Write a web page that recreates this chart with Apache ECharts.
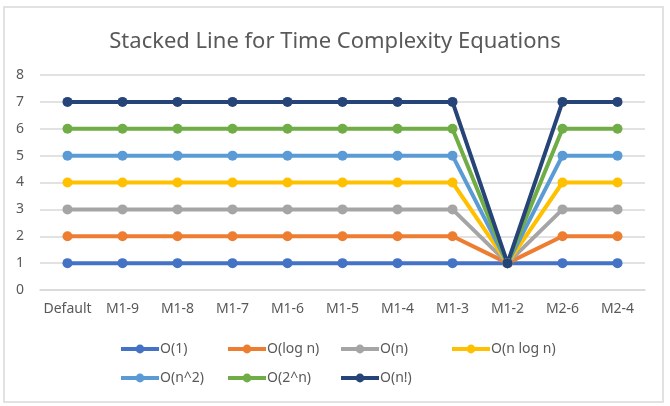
<!DOCTYPE html>
<html>
<head>
<meta charset="utf-8">
<script src="https://cdn.jsdelivr.net/npm/echarts@6/dist/echarts.min.js"></script>
<style>html,body{margin:0;padding:0;background:#fff}#c{width:670px;height:406px}</style>
</head>
<body>
<div id="c"></div>
<script>
const categories = ['Default','M1-9','M1-8','M1-7','M1-6','M1-5','M1-4','M1-3','M1-2','M2-6','M2-4'];
const seriesNames = ['O(1)','O(log n)','O(n)','O(n log n)','O(n^2)','O(2^n)','O(n!)'];
const o1      = [1,1,1,1,1,1,1,1,1,1,1];
const ologn   = [2,2,2,2,2,2,2,2,1,2,2];
const on      = [3,3,3,3,3,3,3,3,1,3,3];
const onlogn  = [4,4,4,4,4,4,4,4,1,4,4];
const on2     = [5,5,5,5,5,5,5,5,1,5,5];
const o2n     = [6,6,6,6,6,6,6,6,1,6,6];
const onfact  = [7,7,7,7,7,7,7,7,1,7,7];
const yTicks  = [0,1,2,3,4,5,6,7,8];

const values = [o1, ologn, on, onlogn, on2, o2n, onfact];
const colors = ['#4472C4','#ED7D31','#A5A5A5','#FFC000','#5B9BD5','#70AD47','#264478'];
const font = 'Noto Sans';
const txt = '#595959';

const legendPos = [[119,342],[226,342],[339,342],[450,342],[119,371],[226,371],[339,371]];
const legends = seriesNames.map((n,i)=>({
  data:[n], left:legendPos[i][0], top:legendPos[i][1],
  itemWidth:38, itemHeight:11, itemGap:0, padding:0,
  lineStyle:{width:4},
  textStyle:{color:txt, fontFamily:font, fontSize:14, padding:[0,0,0,-4]},
  selectedMode:false
}));

const chart = echarts.init(document.getElementById('c'), null, {renderer:'canvas'});
chart.setOption({
  animation:false,
  backgroundColor:'#fff',
  title:{text:'Stacked Line for Time Complexity Equations', left:'center', top:26,
    textStyle:{color:txt, fontFamily:font, fontSize:22, fontWeight:'normal'}},
  graphic:[{type:'rect', shape:{x:4,y:7,width:659,height:395}, style:{fill:null, stroke:'#D9D9D9', lineWidth:1.5}, silent:true}],
  legend:legends,
  grid:{left:40, right:25, top:75, bottom:116},
  xAxis:{type:'category', data:categories, boundaryGap:true,
    axisLine:{show:true, lineStyle:{color:'#D9D9D9', width:1.5}}, axisTick:{show:false},
    axisLabel:{color:txt, fontFamily:font, fontSize:14, margin:12, interval:0}},
  yAxis:{type:'value', min:0, max:8, interval:1,
    axisLine:{show:false}, axisTick:{show:false},
    splitLine:{lineStyle:{color:'#D9D9D9', width:1.5}},
    axisLabel:{color:txt, fontFamily:font, fontSize:14, margin:16,
      formatter:v=>yTicks.includes(v)?String(v):''}},
  series:seriesNames.map((n,i)=>({
    name:n, type:'line', data:values[i], color:colors[i],
    symbol:'circle', symbolSize:10,
    lineStyle:{width:4, color:colors[i]},
    itemStyle:{color:colors[i]}
  }))
});
</script>
</body>
</html>
